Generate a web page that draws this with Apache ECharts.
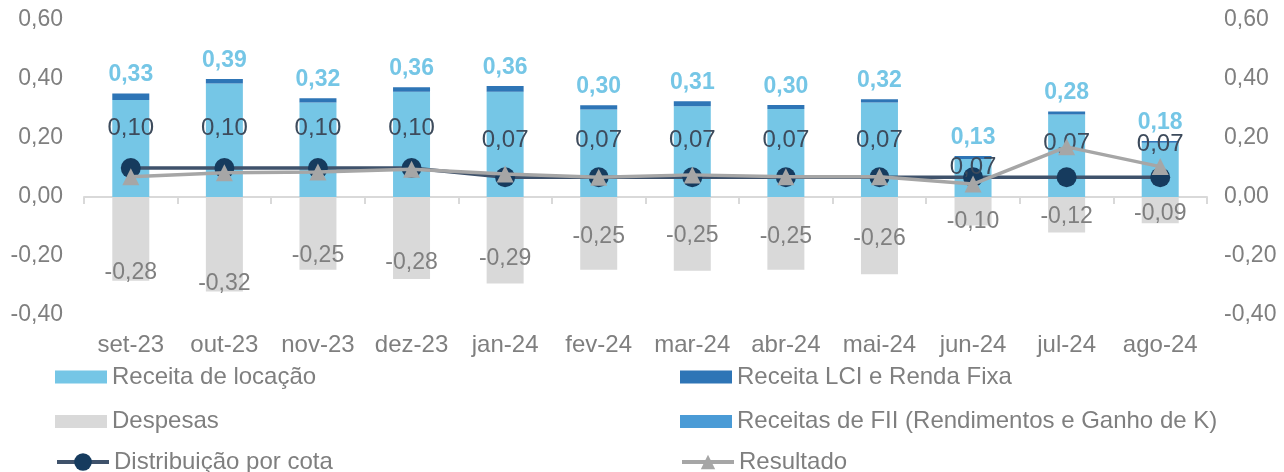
<!DOCTYPE html>
<html><head><meta charset="utf-8">
<script src="https://cdn.jsdelivr.net/npm/echarts@6/dist/echarts.min.js"></script>
<style>html,body{margin:0;padding:0;background:#fff}#c{width:1284px;height:472px}</style>
</head><body><div id="c"></div>
<script>
// ---- data ----
const categories = ['set-23','out-23','nov-23','dez-23','jan-24','fev-24','mar-24','abr-24','mai-24','jun-24','jul-24','ago-24'];
const receitaLocacao = [0.329,0.385,0.32,0.357,0.357,0.297,0.308,0.298,0.32,0.129,0.28,0.184];
const receitaLCI = [0.022,0.015,0.015,0.015,0.019,0.014,0.017,0.014,0.011,0.010,0.010,0.006];
const receitaFII = [0,0,0,0,0,0,0,0,0,0,0,0];
const despesas = [-0.284,-0.32,-0.247,-0.278,-0.293,-0.247,-0.25,-0.247,-0.262,-0.097,-0.12,-0.089];
const distribuicao = [0.098,0.098,0.098,0.098,0.067,0.067,0.067,0.067,0.067,0.067,0.067,0.067];
const resultado = [0.069,0.082,0.085,0.094,0.078,0.067,0.075,0.069,0.069,0.044,0.17,0.103];
const yTicks = [-0.4,-0.2,0,0.2,0.4,0.6];

// ---- label placement styles (px) ----
const despLabelLift = [9,8,15,17,25,34,36,34,36,4,16,10];
const distLabelLift = [18,18,18,18,15,15,15,15,15,-12,12,11];

const FONT = 'Liberation Sans, Arial, sans-serif';
const fmt = v => (Math.round(v*100)/100).toFixed(2).replace('.', ',');
const chart = echarts.init(document.getElementById('c'), null, {renderer:'canvas'});

const legendBase = {padding:0, itemGap:0, textStyle:{color:'#7f7f7f', fontSize:24, fontFamily:FONT}};
function lg(name, left, top, extra){ return Object.assign({}, legendBase, {data:[name], left, top, selectedMode:false}, extra); }
const barIcon = {icon:'rect', itemWidth:52, itemHeight:13};

chart.setOption({
  animation:false,
  backgroundColor:'#fff',
  grid:{left:84, right:77, top:20, bottom:157, containLabel:false},
  legend:[
    lg('Receita de locação',55,365,barIcon),
    lg('Receita LCI e Renda Fixa',680,365,barIcon),
    lg('Despesas',55,409.5,barIcon),
    lg('Receitas de FII (Rendimentos e Ganho de K)',680,409.5,barIcon),
    lg('Distribuição por cota',55,450,{itemWidth:52,itemHeight:22,lineStyle:{width:4}}),
    lg('Resultado',680,450,{itemWidth:52,itemHeight:18,lineStyle:{width:4}})
  ],
  xAxis:[
    {type:'category', data:categories, position:'bottom',
     axisLine:{show:false, onZero:false}, axisTick:{show:false},
     axisLabel:{color:'#7f7f7f', fontSize:24, fontFamily:FONT, margin:18, interval:0}},
    {type:'category', data:categories, position:'bottom',
     axisLine:{show:true, onZero:true, lineStyle:{color:'#d9d9d9', width:2}},
     axisTick:{show:true, length:7, inside:false, interval:0, lineStyle:{color:'#d9d9d9', width:2}},
     axisLabel:{show:false}}
  ],
  yAxis:[
    {type:'value', min:yTicks[0], max:yTicks[yTicks.length-1], interval:0.2,
     axisLine:{show:false}, axisTick:{show:false}, splitLine:{show:false},
     axisLabel:{color:'#7f7f7f', fontSize:23, fontFamily:FONT, margin:21, formatter:fmt}},
    {type:'value', min:yTicks[0], max:yTicks[yTicks.length-1], interval:0.2, position:'right',
     axisLine:{show:false}, axisTick:{show:false}, splitLine:{show:false},
     axisLabel:{color:'#7f7f7f', fontSize:23, fontFamily:FONT, margin:17, formatter:fmt}}
  ],
  series:[
    {name:'Receita de locação', type:'bar', stack:'r', barWidth:37, data:receitaLocacao,
     itemStyle:{color:'#75c6e6'}},
    {name:'Receitas de FII (Rendimentos e Ganho de K)', type:'bar', stack:'r', barWidth:37, data:receitaFII,
     itemStyle:{color:'#4a9bd6'}},
    {name:'Receita LCI e Renda Fixa', type:'bar', stack:'r', barWidth:37, data:receitaLCI,
     itemStyle:{color:'#2e75b6'},
     label:{show:true, position:'top', distance:7, color:'#75c6e6', fontSize:23, fontWeight:'bold', fontFamily:FONT,
       formatter:p=>fmt(receitaLocacao[p.dataIndex])}},
    {name:'Despesas', type:'bar', stack:'r', barWidth:37,
     data:despesas.map((v,i)=>({value:v, label:{offset:[0,-(despLabelLift[i]-12)]}})),
     itemStyle:{color:'#d9d9d9'},
     label:{show:true, position:'insideBottom', distance:0, color:'#7f7f7f', fontSize:23, fontFamily:FONT,
       formatter:p=>fmt(p.value)}},
    {name:'Distribuição por cota', type:'line', data:distribuicao.map((v,i)=>({value:v, label:{distance:distLabelLift[i]}})),
     symbol:'circle', symbolSize:20, z:5,
     lineStyle:{color:'#3f526b', width:3.5}, itemStyle:{color:'#163b5e'},
     label:{show:true, position:'top', color:'#3d4b5c', fontSize:24, fontFamily:FONT, formatter:p=>fmt(p.value)}},
    {name:'Resultado', type:'line', data:resultado, symbol:'triangle', symbolSize:17, z:6,
     lineStyle:{color:'#a6a6a6', width:3.5}, itemStyle:{color:'#a6a6a6'}}
  ]
});
</script></body></html>
